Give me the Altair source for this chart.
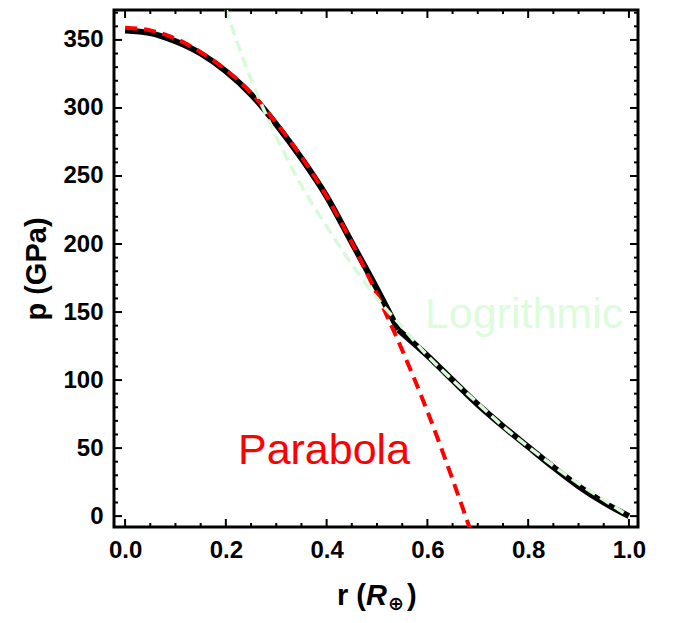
import altair as alt
import pandas as pd

# ---- data ----
core_r = [0.0, 0.05, 0.10, 0.15, 0.20, 0.25, 0.30, 0.35, 0.40, 0.45, 0.50, 0.542]
core_p = [357, 355, 349, 340, 327, 310, 288, 263, 235, 201, 167, 137]
mantle_r = [0.542, 0.60, 0.65, 0.70, 0.75, 0.80, 0.85, 0.90, 0.95, 1.00]
mantle_p = [137, 118, 100, 82, 66, 51, 36, 22, 10, 0]

para_r = [0.0, 0.05, 0.10, 0.15, 0.20, 0.25, 0.30, 0.35, 0.40, 0.45, 0.50, 0.55, 0.60, 0.65, 0.70]
para_p = [359, 357, 351, 341, 328, 311, 289, 264, 235, 201, 163, 122, 77, 27, -26]

log_r = [0.19, 0.20, 0.25, 0.30, 0.35, 0.40, 0.45, 0.50, 0.55, 0.60, 0.65, 0.70, 0.75, 0.80, 0.85, 0.90, 0.95, 1.00]
log_p = [385, 373, 321, 279, 243, 213, 185, 160, 139, 118, 100, 83, 66, 51, 37, 24, 12, 0]

x_major = [0.0, 0.2, 0.4, 0.6, 0.8, 1.0]
x_minor = [round(i * 0.05, 2) for i in range(21) if i % 4]
y_major = [0, 50, 100, 150, 200, 250, 300, 350]
y_minor = [i * 10 for i in range(38) if i % 5]

labels_text = ["Parabola", "Logrithmic"]
labels_r = [0.224, 0.595]
labels_p = [38, 138]
labels_color = ["#ff0000", "#dcfcdc"]

W, H = 524, 517
xs = alt.Scale(domain=[-0.022, 1.018], nice=False, zero=False)
ys = alt.Scale(domain=[-8, 372], nice=False, zero=False)
FONT = "Liberation Sans"

XAXIS = alt.Axis(
    values=x_major, format=".1f", title=None, ticks=False, tickSize=0,
    domain=False, grid=False, labelFlush=False, labelPadding=11,
    labelFont=FONT, labelFontWeight="bold", labelFontSize=24, labelColor="black")
YAXIS = alt.Axis(
    values=y_major, format="d", title="p (GPa)", ticks=False, tickSize=0,
    domain=False, grid=False, labelFlush=False, labelPadding=11,
    labelFont=FONT, labelFontWeight="bold", labelFontSize=24, labelColor="black",
    titleFont=FONT, titleFontWeight="bold", titleFontSize=29, titleColor="black",
    titleX=-78, titleY=H / 2, titleBaseline="middle", titleAngle=270)


def X(field):
    return alt.X(field, scale=xs, axis=XAXIS)


def Y(field):
    return alt.Y(field, scale=ys, axis=YAXIS)


black_df = pd.DataFrame({
    "r": core_r + mantle_r,
    "p": core_p + mantle_p,
    "seg": ["core"] * len(core_r) + ["mantle"] * len(mantle_r),
})
para_df = pd.DataFrame({"r": para_r, "p": para_p})
log_df = pd.DataFrame({"r": log_r, "p": log_p})

black = alt.Chart(black_df).mark_line(
    color="black", strokeWidth=6, interpolate="monotone", clip=True
).encode(x=X("r:Q"), y=Y("p:Q"), detail="seg:N")

para = alt.Chart(para_df).mark_line(
    color="#ff0000", strokeWidth=4, strokeDash=[12, 7], interpolate="monotone", clip=True
).encode(x=X("r:Q"), y=Y("p:Q"))

logc = alt.Chart(log_df).mark_line(
    color="#d8fad8", strokeWidth=3.5, strokeDash=[11, 6], interpolate="monotone", clip=True
).encode(x=X("r:Q"), y=Y("p:Q"))

layers = [black, para, logc]

for txt, rr, pp, col in zip(labels_text, labels_r, labels_p, labels_color):
    layers.append(
        alt.Chart(pd.DataFrame({"r": [rr], "p": [pp], "t": [txt]})).mark_text(
            font=FONT, fontSize=43, color=col, align="left", baseline="alphabetic"
        ).encode(x=X("r:Q"), y=Y("p:Q"), text="t:N")
    )


def xticks(vals, length):
    base = alt.Chart(pd.DataFrame({"v": vals}))
    b = base.mark_rule(color="black", strokeWidth=2).encode(
        x=X("v:Q"), y=alt.value(H), y2=alt.value(H - length))
    t = base.mark_rule(color="black", strokeWidth=2).encode(
        x=X("v:Q"), y=alt.value(0), y2=alt.value(length))
    return [b, t]


def yticks(vals, length):
    base = alt.Chart(pd.DataFrame({"v": vals}))
    l = base.mark_rule(color="black", strokeWidth=2).encode(
        y=Y("v:Q"), x=alt.value(0), x2=alt.value(length))
    r = base.mark_rule(color="black", strokeWidth=2).encode(
        y=Y("v:Q"), x=alt.value(W), x2=alt.value(W - length))
    return [l, r]


layers += xticks(x_major, 8) + xticks(x_minor, 4) + yticks(y_major, 8) + yticks(y_minor, 4)

# x-axis title: r (R_⊕) with italic R and subscript ⊕
xt_y = 595
layers.append(alt.Chart().mark_text(text="r (", font=FONT, fontWeight="bold", fontSize=29,
                                    align="left", baseline="alphabetic", color="black")
              .encode(x=alt.value(223), y=alt.value(xt_y)))
layers.append(alt.Chart().mark_text(text="R", font=FONT, fontWeight="bold", fontStyle="italic",
                                    fontSize=29, align="left", baseline="alphabetic", color="black")
              .encode(x=alt.value(252), y=alt.value(xt_y)))
layers.append(alt.Chart().mark_text(text="⊕", font="DejaVu Sans", fontWeight="bold", fontSize=19,
                                    align="left", baseline="alphabetic", color="black")
              .encode(x=alt.value(274), y=alt.value(xt_y + 5)))
layers.append(alt.Chart().mark_text(text=")", font=FONT, fontWeight="bold", fontSize=29,
                                    align="left", baseline="alphabetic", color="black")
              .encode(x=alt.value(293), y=alt.value(xt_y)))

chart = alt.layer(*layers).properties(
    width=W, height=H,
    padding={"left": 106, "top": 2, "right": 20, "bottom": 88},
    autosize=alt.AutoSizeParams(type="none"),
    background="white",
).configure_view(stroke="black", strokeWidth=3)

chart.save("out.html", embed_options={"renderer": "svg", "actions": False})
